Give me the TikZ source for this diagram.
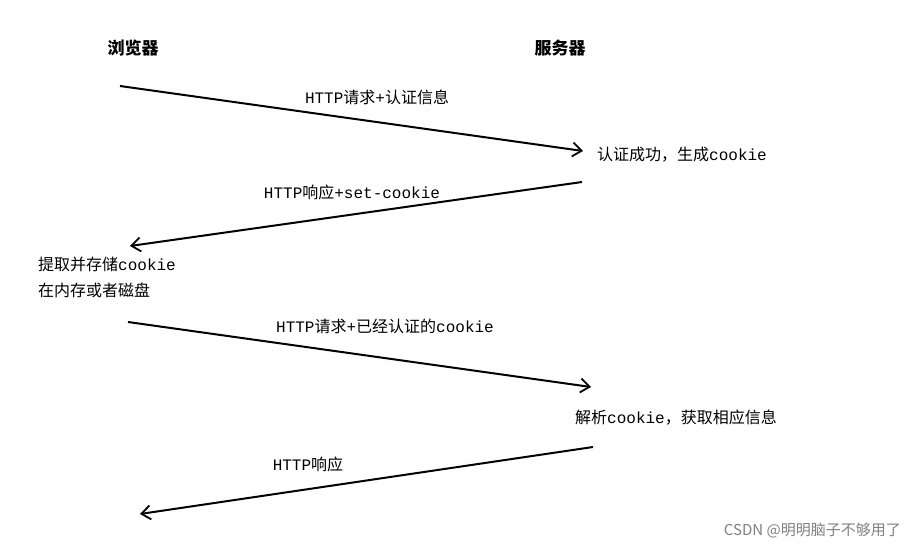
\documentclass[tikz,border=0pt]{standalone}
\usepackage{fontspec}
\setmainfont{Noto Sans CJK SC}
\newfontfamily\lat{Liberation Mono}
\newcommand{\lt}[1]{{\lat #1}}
\usetikzlibrary{arrows.meta}
\tikzset{
  msg/.style={line width=2pt,-{Straight Barb[length=9pt,width=14pt,line width=1.8pt]}},
  lbl/.style={font=\fontsize{16}{19}\selectfont,inner sep=0pt},
  hd/.style={font=\fontsize{17}{20}\selectfont\bfseries,inner sep=0pt}
}
\begin{document}
\begin{tikzpicture}[x=1pt,y=-1pt]
\useasboundingbox[fill=white] (0,0) rectangle (913,549);
\node[hd] (b) at (133,48) {浏览器};
\node[hd] (s) at (560,48) {服务器};
\coordinate (a1s) at (120,86); \coordinate (a1e) at (583,151);
\coordinate (a2s) at (582,182); \coordinate (a2e) at (130,246);
\coordinate (a3s) at (128,322); \coordinate (a3e) at (591,387);
\coordinate (a4s) at (593,447); \coordinate (a4e) at (140,514);
\draw[msg] (a1s) -- (a1e);
\draw[msg] (a2s) -- (a2e);
\draw[msg] (a3s) -- (a3e);
\draw[msg] (a4s) -- (a4e);
\node[lbl] (l1) at (377,97) {\lt{HTTP}请求\lt{+}认证信息};
\node[lbl,anchor=west] (n1) at (597,155) {认证成功，生成\lt{cookie}};
\node[lbl] (l2) at (352,192) {\lt{HTTP}响应\lt{+set-cookie}};
\node[lbl,anchor=west] (n2a) at (38,264) {提取并存储\lt{cookie}};
\node[lbl,anchor=west] (n2b) at (38,290) {在内存或者磁盘};
\node[lbl] (l3) at (385,326) {\lt{HTTP}请求\lt{+}已经认证的\lt{cookie}};
\node[lbl,anchor=west] (n3) at (575,418) {解析\lt{cookie}，获取相应信息};
\node[lbl] (l4) at (308,464) {\lt{HTTP}响应};
\node[text=gray,font=\fontsize{15}{18}\selectfont,inner sep=0pt,anchor=east] (wm) at (901,530) {CSDN @明明脑子不够用了};
\end{tikzpicture}
\end{document}
